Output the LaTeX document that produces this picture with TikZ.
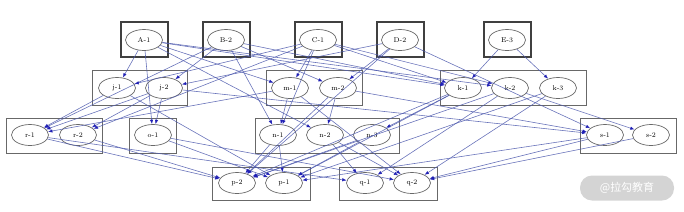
\documentclass[tikz,border=0pt]{standalone}
\usepackage{fontspec}
\newfontfamily\cjkfont{Noto Sans CJK SC}
\usepackage{xcolor}
\usepackage{tikz}
\usetikzlibrary{shapes.geometric,arrows.meta}
\definecolor{EdgeBlue}{HTML}{4E5AAE}
\definecolor{TipBlue}{HTML}{1E1EB4}
\definecolor{BoxGray}{HTML}{686868}
\definecolor{MarkGray}{HTML}{D4D4D4}

\tikzset{
  task/.style={ellipse,draw=BoxGray,line width=0.7pt,minimum width=37bp,
               minimum height=21bp,inner sep=0pt,font=\fontsize{7}{8}\selectfont},
  group/.style={draw=BoxGray,line width=0.7pt},
  topgroup/.style={draw=black!75,line width=1.3pt},
  dep/.style={draw=EdgeBlue,line width=0.6pt,draw opacity=0.85,
              -{Latex[length=4.5pt,width=3.5pt,color=TipBlue]}}
}

\begin{document}
\begin{tikzpicture}[x=1bp,y=-1bp]
  \useasboundingbox (0,0) rectangle (684,211);
  % top row
  \draw[topgroup] (121,22) rectangle (168,57);
  \draw[topgroup] (203,22) rectangle (250,57);
  \draw[topgroup] (295,22) rectangle (342,57);
  \draw[topgroup] (377,22) rectangle (424,57);
  \draw[topgroup] (484,22) rectangle (531,57);
  \node[task] (A1) at (144,40) {A-1};
  \node[task] (B2) at (226,40) {B-2};
  \node[task] (C1) at (318,40) {C-1};
  \node[task] (D2) at (400,40) {D-2};
  \node[task] (E3) at (507,40) {E-3};
  % second row
  \draw[group] (92,70) rectangle (187,105);
  \draw[group] (266,70) rectangle (362,105);
  \draw[group] (440,70) rectangle (586,105);
  \node[task] (j1) at (117,88) {j-1};
  \node[task] (j2) at (164,88) {j-2};
  \node[task] (m1) at (290,88) {m-1};
  \node[task] (m2) at (338,88) {m-2};
  \node[task] (k1) at (463,88) {k-1};
  \node[task] (k2) at (510,88) {k-2};
  \node[task] (k3) at (558,88) {k-3};
  % third row
  \draw[group] (6,118) rectangle (102,153);
  \draw[group] (129,118) rectangle (176,153);
  \draw[group] (255,118) rectangle (399,153);
  \draw[group] (580,118) rectangle (676,153);
  \node[task] (r1) at (30,135) {r-1};
  \node[task] (r2) at (78,135) {r-2};
  \node[task] (o1) at (153,135) {o-1};
  \node[task] (n1) at (278,135) {n-1};
  \node[task] (n2) at (325,135) {n-2};
  \node[task] (n3) at (372,135) {n-3};
  \node[task] (s1) at (605,135) {s-1};
  \node[task] (s2) at (651,135) {s-2};
  % bottom row
  \draw[group] (212,167) rectangle (310,200);
  \draw[group] (339,167) rectangle (437,200);
  \node[task] (p2) at (237,183) {p-2};
  \node[task] (p1) at (284,183) {p-1};
  \node[task] (q1) at (365,183) {q-1};
  \node[task] (q2) at (412,183) {q-2};
  % dependencies
  \foreach \a/\b in {A1/j1,A1/o1,A1/m1,A1/k1,A1/n2,A1/k2,
                     B2/j2,B2/r1,B2/m2,B2/k1,B2/n1,
                     C1/j1,C1/m1,C1/k1,C1/r2,C1/n1,C1/k2,
                     D2/j2,D2/m2,D2/s1,D2/p2,
                     E3/k1,E3/k3,
                     j1/r1,j1/p1,j2/r1,j2/r2,j2/o1,j2/s1,
                     m1/n1,m1/r1,m1/q2,m2/n2,m2/s1,m2/p2,
                     k1/n3,k1/p2,k1/p1,k2/s2,k2/q1,k2/p2,k3/q2,k3/p1,
                     r1/p2,r1/q1,r2/p2,o1/p1,o1/q2,
                     n1/p2,n1/p1,n2/q1,n2/q2,n3/p2,n3/p1,
                     s1/p1,s1/q2,s2/q2}
    \draw[dep] (\a) -- (\b);
  % watermark
  \node[fill=MarkGray,rounded corners=12bp,minimum width=94bp,minimum height=25bp,
        text=white,font=\cjkfont\fontsize{11}{13}\selectfont] (mark) at (627,188) {@拉勾教育};
\end{tikzpicture}
\end{document}
